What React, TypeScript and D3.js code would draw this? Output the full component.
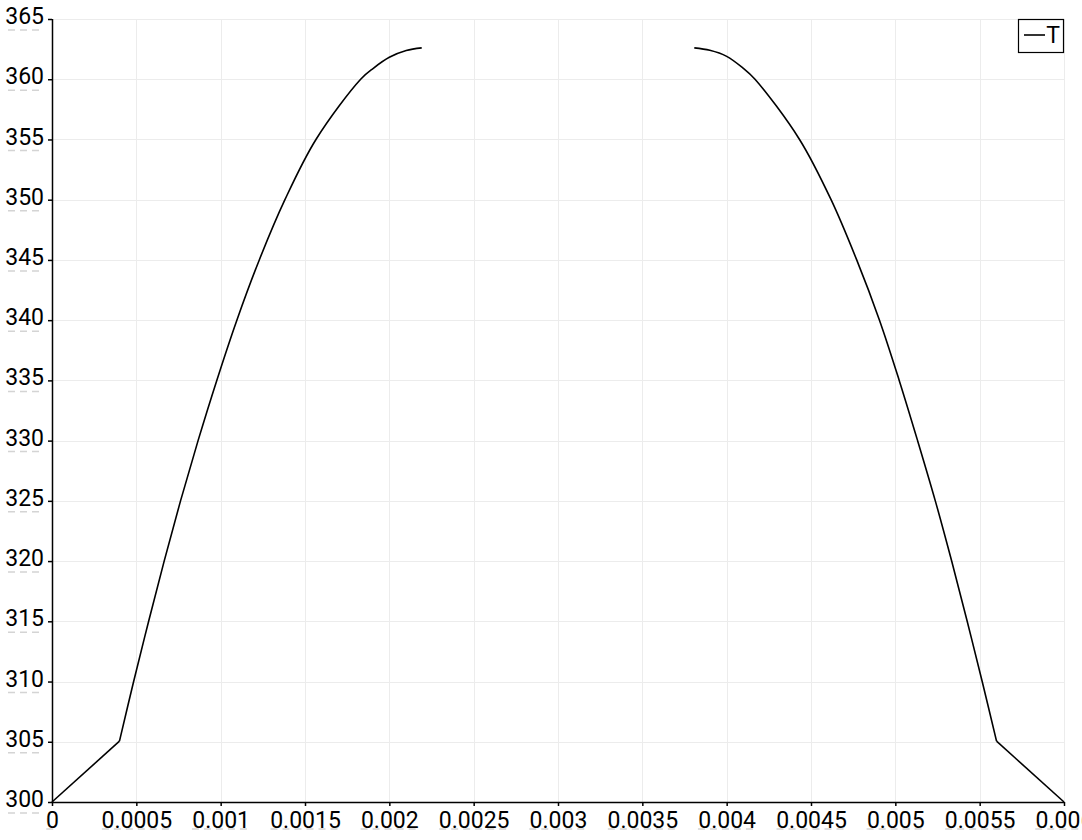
import React, {useEffect, useRef} from "react";
import * as d3 from "d3";

// temperature profile T along x, two branches with a gap in the middle
const leftX = [0, 0.0004, 0.000484, 0.000573, 0.000665, 0.000762, 0.000866, 0.000977, 0.001096, 0.001229, 0.001381, 0.001565, 0.00183, 0.001905, 0.002, 0.0021, 0.002192];
const leftT = [300, 305.05, 310, 315, 320, 325, 330, 335, 340, 345, 350, 355, 360, 360.91, 361.82, 362.38, 362.6];

const rightX = [0.003808, 0.0039, 0.004, 0.004095, 0.004168, 0.004432, 0.004619, 0.004771, 0.004906, 0.005023, 0.005132, 0.005237, 0.005334, 0.005426, 0.005515, 0.0056, 0.006];
const rightT = [362.6, 362.4, 361.9, 360.95, 360, 355, 350, 345, 340, 335, 330, 325, 320, 315, 310, 305.05, 300];

const xTicks = [0, 0.0005, 0.001, 0.0015, 0.002, 0.0025, 0.003, 0.0035, 0.004, 0.0045, 0.005, 0.0055, 0.006];
const yTicks = [300, 305, 310, 315, 320, 325, 330, 335, 340, 345, 350, 355, 360, 365];
const seriesName = "T";

const FONT = "Roboto, 'Liberation Sans', sans-serif";

const App: React.FC = () => {
    const svgRef = useRef<SVGSVGElement | null>(null);

    useEffect(() => {
        if (!svgRef.current) return;
        const svg = d3.select(svgRef.current);
        svg.selectAll("*").remove();

        const left = 52, right = 1064, top = 19, bottom = 802;

        const x = d3.scaleLinear().domain([0, 0.006]).range([left, right]);
        const y = d3.scaleLinear().domain([300, 365]).range([bottom, top]);

        svg.append("rect").attr("width", 1082).attr("height", 840).attr("fill", "#fff");

        // grid
        const grid = svg.append("g").attr("stroke", "#ececec").attr("stroke-width", 1);
        grid.selectAll(".gx")
            .data(xTicks.slice(1))
            .join("line")
            .attr("x1", (d) => Math.round(x(d)) + 0.5)
            .attr("x2", (d) => Math.round(x(d)) + 0.5)
            .attr("y1", top)
            .attr("y2", bottom);
        grid.selectAll(".gy")
            .data(yTicks.slice(1))
            .join("line")
            .attr("x1", left)
            .attr("x2", right)
            .attr("y1", (d) => Math.round(y(d)) + 0.5)
            .attr("y2", (d) => Math.round(y(d)) + 0.5);

        // axes
        const fmt = d3.format("~g");
        const xAxis = svg.append("g")
            .attr("transform", `translate(0,${bottom})`)
            .call(d3.axisBottom(x).tickValues(xTicks).tickFormat((d) => fmt(+d)).tickSize(4).tickPadding(6));
        xAxis.attr("font-size", "23px").attr("font-family", FONT);
        xAxis.selectAll("text").attr("fill", "#000").attr("dy", "0.71em");
        xAxis.selectAll("line, path").attr("stroke", "#000").attr("stroke-width", 1.5);

        const yAxis = svg.append("g")
            .attr("transform", `translate(${left},0)`)
            .call(d3.axisLeft(y).tickValues(yTicks).tickFormat((d) => String(d)).tickSize(4).tickPadding(4));
        yAxis.attr("font-size", "23px").attr("font-family", FONT);
        yAxis.selectAll("text").attr("fill", "#000").attr("dy", "0.2em");
        yAxis.selectAll("line, path").attr("stroke", "#000").attr("stroke-width", 1.5);
        yAxis.select(".domain").attr("d", `M0.5,${top}V${bottom}`);
        xAxis.select(".domain").attr("d", `M${left},0.5H${right}`);

        // faint dashes under tick labels
        const dash = svg.append("g").attr("stroke", "#d4d4d4").attr("stroke-width", 1.5).attr("stroke-dasharray", "7 5");
        xTicks.forEach((t) => {
            const w = fmt(t).length * 11.5;
            dash.append("line")
                .attr("x1", x(t) - w / 2).attr("x2", x(t) + w / 2)
                .attr("y1", 829).attr("y2", 829);
        });
        yTicks.forEach((t) => {
            dash.append("line")
                .attr("x1", 8).attr("x2", 44)
                .attr("y1", y(t) + 11).attr("y2", y(t) + 11);
        });

        // series
        const lb = leftX.map((v, i) => [v, leftT[i]] as [number, number]);
        const rb = rightX.map((v, i) => [v, rightT[i]] as [number, number]);
        const straight = d3.line<[number, number]>().x((d) => x(d[0])).y((d) => y(d[1]));
        const smooth = d3.line<[number, number]>().x((d) => x(d[0])).y((d) => y(d[1])).curve(d3.curveCatmullRom.alpha(0.5));
        const lines = svg.append("g").attr("fill", "none").attr("stroke", "#000").attr("stroke-width", 1.6)
            .attr("stroke-linejoin", "round");
        // left: straight piece up to the kink, then smooth
        lines.append("path").attr("d", straight(lb.slice(0, 2)));
        lines.append("path").attr("d", smooth(lb.slice(1)));
        // right: smooth down to the kink, then straight
        lines.append("path").attr("d", smooth(rb.slice(0, rb.length - 1)));
        lines.append("path").attr("d", straight(rb.slice(rb.length - 2)));

        // legend
        const lg = svg.append("g");
        lg.append("rect")
            .attr("x", 1018.5).attr("y", 19.5).attr("width", 45).attr("height", 33)
            .attr("fill", "#fff").attr("stroke", "#000").attr("stroke-width", 1.2);
        lg.append("line")
            .attr("x1", 1024).attr("x2", 1045).attr("y1", 35).attr("y2", 35)
            .attr("stroke", "#000").attr("stroke-width", 1.6);
        lg.append("text")
            .attr("x", 1053).attr("y", 43)
            .attr("text-anchor", "middle")
            .attr("font-family", FONT).attr("font-size", "23px")
            .text(seriesName);
    }, []);

    return (
        <svg
            ref={svgRef}
            width={1082}
            height={840}
            style={{position: "absolute", left: 0, top: 0}}
        ></svg>
    );
};

export default App;
